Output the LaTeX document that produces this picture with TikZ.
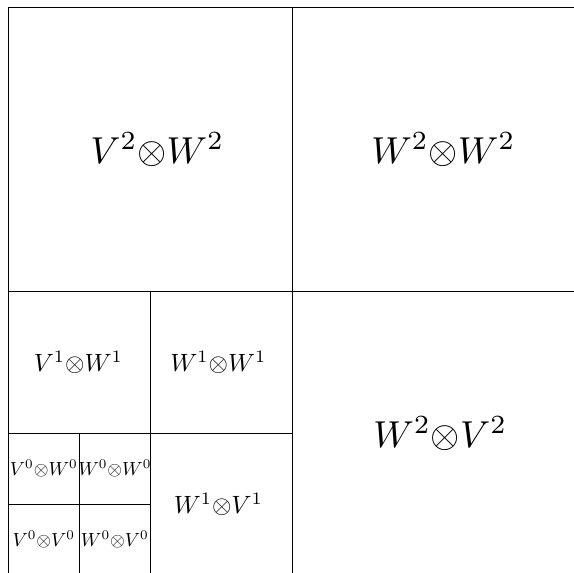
\documentclass[tikz,border=0pt]{standalone}
\begin{document}
\begin{tikzpicture}[x=1pt,y=-1pt,
  grid/.style={line width=0.8pt, black},
  big/.style={scale=3.75, inner sep=0pt},
  mid/.style={scale=2.5, inner sep=0pt},
  small/.style={scale=1.9, inner sep=0pt}]
\useasboundingbox (0,0) rectangle (574,573);
\clip (0,0) rectangle (574,573);
% partition lines
\draw[grid] (8.3,7.3) rectangle (576.3,575.3);
\draw[grid] (292.3,7.3) -- (292.3,575.3);
\draw[grid] (8.3,291.3) -- (576.3,291.3);
\draw[grid] (150.3,291.3) -- (150.3,575.3);
\draw[grid] (8.3,433.3) -- (292.3,433.3);
\draw[grid] (79.3,433.3) -- (79.3,575.3);
\draw[grid] (8.3,504.3) -- (150.3,504.3);
% labels
\node[big] (vw2) at (157.3,149.3) {$V^2{\otimes}W^2$};
\node[big] (ww2) at (443.3,149.3) {$W^2{\otimes}W^2$};
\node[big] (wv2) at (440.3,433.3) {$W^2{\otimes}V^2$};
\node[mid] (vw1) at (78.3,362.3) {$V^1{\otimes}W^1$};
\node[mid] (ww1) at (218.3,362.3) {$W^1{\otimes}W^1$};
\node[mid] (wv1) at (218.3,504.3) {$W^1{\otimes}V^1$};
\node[small] (vw0) at (43.8,468.8) {$V^0{\otimes}W^0$};
\node[small] (ww0) at (114.8,468.8) {$W^0{\otimes}W^0$};
\node[small] (vv0) at (43.8,539.8) {$V^0{\otimes}V^0$};
\node[small] (wv0) at (114.8,539.8) {$W^0{\otimes}V^0$};
\end{tikzpicture}
\end{document}
